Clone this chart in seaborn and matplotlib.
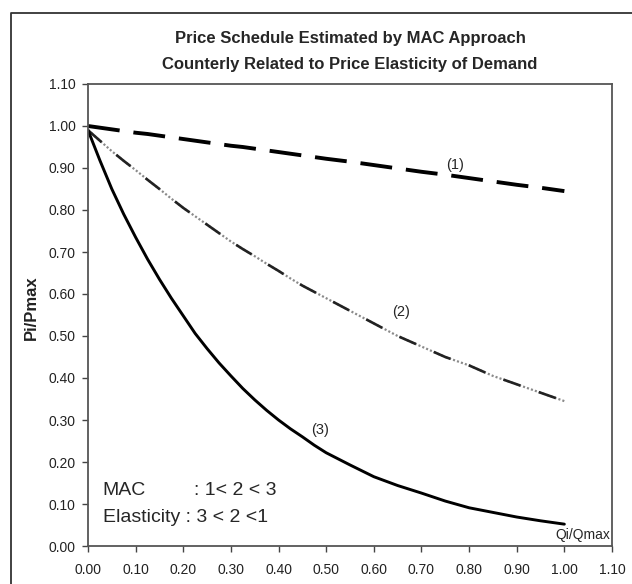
import matplotlib
matplotlib.use("Agg")
import matplotlib.pyplot as plt
from matplotlib.lines import Line2D
import seaborn as sns
import pandas as pd

# ---- data ----
q = [0.000, 0.025, 0.050, 0.075, 0.100, 0.125, 0.150, 0.175, 0.200, 0.225, 0.250,
     0.275, 0.300, 0.325, 0.350, 0.375, 0.400, 0.425, 0.450, 0.475, 0.500, 0.550,
     0.600, 0.650, 0.700, 0.750, 0.800, 0.850, 0.900, 0.950, 1.000]
curve1 = [1.000, 0.996, 0.992, 0.988, 0.984, 0.981, 0.977, 0.973, 0.969, 0.965, 0.961,
          0.957, 0.953, 0.950, 0.946, 0.942, 0.938, 0.934, 0.930, 0.926, 0.922, 0.915,
          0.907, 0.899, 0.891, 0.884, 0.876, 0.868, 0.860, 0.853, 0.845]
curve2 = [0.990, 0.965, 0.940, 0.917, 0.895, 0.872, 0.850, 0.827, 0.805, 0.785, 0.765,
          0.745, 0.725, 0.707, 0.690, 0.672, 0.655, 0.637, 0.620, 0.605, 0.590, 0.560,
          0.530, 0.500, 0.475, 0.450, 0.430, 0.405, 0.385, 0.365, 0.345]
curve3 = [0.990, 0.918, 0.850, 0.790, 0.735, 0.683, 0.635, 0.590, 0.548, 0.506, 0.470,
          0.436, 0.405, 0.375, 0.348, 0.323, 0.300, 0.279, 0.260, 0.240, 0.222, 0.193,
          0.165, 0.144, 0.126, 0.107, 0.091, 0.080, 0.069, 0.060, 0.052]
tick_values = [0.00, 0.10, 0.20, 0.30, 0.40, 0.50, 0.60, 0.70, 0.80, 0.90, 1.00, 1.10]
tick_labels = ["0.00", "0.10", "0.20", "0.30", "0.40", "0.50", "0.60", "0.70",
               "0.80", "0.90", "1.00", "1.10"]
curve_labels = ["(1)", "(2)", "(3)"]
title_lines = ["Price Schedule Estimated by MAC Approach",
               "Counterly Related to Price Elasticity of Demand"]

df = pd.DataFrame({"q": q, "c1": curve1, "c2": curve2, "c3": curve3})

sns.set_style("ticks")
plt.rcParams["font.family"] = ["Liberation Sans", "DejaVu Sans"]
plt.rcParams["lines.scale_dashes"] = False

W, H = 632, 584
fig = plt.figure(figsize=(W / 100, H / 100), dpi=100)
fig.patch.set_facecolor("white")
ax = fig.add_axes([88 / W, 1 - 546 / H, 524 / W, 462 / H])

# curve (1): long dashes
sns.lineplot(data=df, x="q", y="c1", ax=ax, color="black", lw=2.8,
             linestyle=(0, (23, 10)), solid_capstyle="butt")
# curve (2): grey dotted with dark dashes on top
sns.lineplot(data=df, x="q", y="c2", ax=ax, color="#8a8a8a", lw=1.6,
             linestyle=(0, (1.5, 1.5)))
sns.lineplot(data=df, x="q", y="c2", ax=ax, color="#222222", lw=1.9,
             linestyle=(0, (13, 14)))
# curve (3): solid
sns.lineplot(data=df, x="q", y="c3", ax=ax, color="black", lw=2.1)

ax.set_xlim(0, 1.10)
ax.set_ylim(0, 1.10)
ax.set_xticks(tick_values)
ax.set_xticklabels(tick_labels)
ax.set_yticks(tick_values)
ax.set_yticklabels(tick_labels)
ax.tick_params(axis="both", direction="out", length=4, width=1.0, color="#444444",
               labelsize=10, labelcolor="#222222")
ax.tick_params(axis="x", pad=8)
ax.tick_params(axis="y", pad=5)
for s in ax.spines.values():
    s.set_visible(True)
    s.set_color("#555555")
    s.set_linewidth(1.3)

ax.set_xlabel("")
ax.set_ylabel("Pi/Pmax", fontsize=12, fontweight="bold", color="#222222")
ax.yaxis.set_label_coords(-0.094, 0.515)

# curve labels
ax.text(0.77, 0.907, curve_labels[0], fontsize=10.5, ha="center", va="center")
ax.text(0.657, 0.557, curve_labels[1], fontsize=10.5, ha="center", va="center")
ax.text(0.488, 0.276, curve_labels[2], fontsize=10.5, ha="center", va="center")
ax.text(1.039, 0.026, "Qi/Qmax", fontsize=10, ha="center", va="center")

ax.text(0.031, 0.133, "MAC", fontsize=14, ha="left", va="center")
ax.text(0.222, 0.133, ": 1< 2 < 3", fontsize=14, ha="left", va="center")
ax.text(0.031, 0.069, "Elasticity : 3 < 2 <1", fontsize=14, ha="left", va="center")

# titles
fig.text(350 / W, 1 - 39 / H, title_lines[0], fontsize=12, fontweight="bold",
         ha="center", va="center")
fig.text(350 / W, 1 - 65 / H, title_lines[1], fontsize=12, fontweight="bold",
         ha="center", va="center")

# outer frame (left and top edges visible)
fig.add_artist(Line2D([11 / W, 11 / W, 1.0], [0.0, 1 - 13 / H, 1 - 13 / H],
                      transform=fig.transFigure, color="#333333", lw=1.3))

fig.savefig("out.png", dpi=100, facecolor="white")
